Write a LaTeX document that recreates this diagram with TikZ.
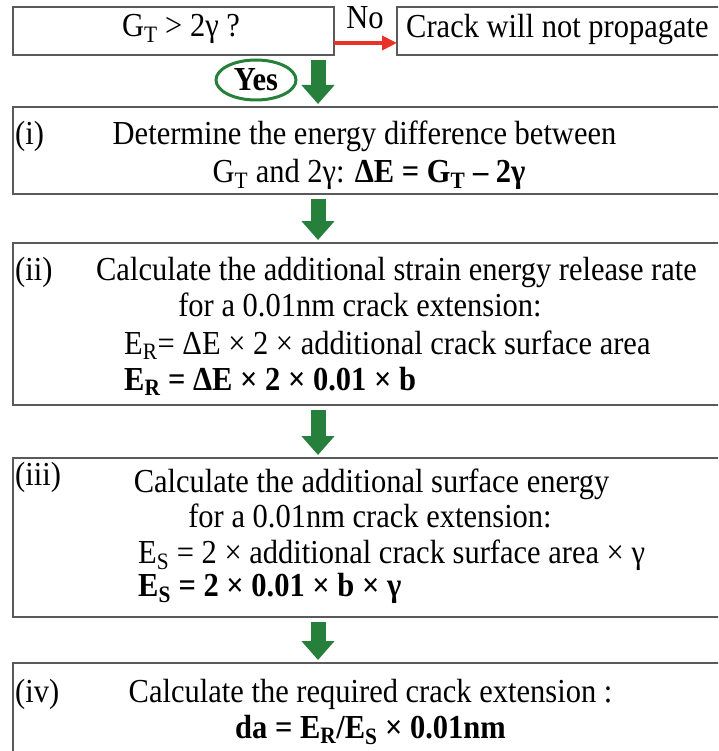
\documentclass[tikz,border=0pt]{standalone}
\usepackage{fontspec}
\usepackage{graphicx}
\setmainfont{Liberation Serif}
\usetikzlibrary{arrows.meta,shapes.geometric}
\newcommand{\subx}[1]{\textsubscript{#1}}
\newcommand{\vst}[1]{\scalebox{1}[1.1]{#1}}
\definecolor{gr}{RGB}{38,128,60}
\definecolor{rd}{RGB}{232,50,40}
\definecolor{bd}{RGB}{90,90,90}
\begin{document}
\begin{tikzpicture}[x=1pt,y=-1pt,
  box/.style={draw=bd,line width=1.6pt,rectangle,inner sep=0pt,outer sep=0pt},
  txt/.style={font=\fontsize{30.5}{36}\selectfont,inner sep=0pt,anchor=base},
  ltxt/.style={txt,anchor=base west},
  garrow/.style={gr,line width=15pt,-{Triangle[width=32pt,length=19pt]},shorten <=5pt,shorten >=3pt},
  rarrow/.style={rd,line width=4pt,-{Triangle[width=14pt,length=15pt]}}]
\useasboundingbox (0,0) rectangle (718,751);
\clip (0,0) rectangle (718,751);
% boxes
\node[box,minimum width=321,minimum height=48] (top) at (173.5,31) {};
\node[box,minimum width=343,minimum height=48] (no) at (568.5,31) {};
\node[box,minimum width=727,minimum height=87] (bi) at (376.5,150.5) {};
\node[box,minimum width=727,minimum height=162] (bii) at (376.5,324) {};
\node[box,minimum width=727,minimum height=159] (biii) at (376.5,537.5) {};
\node[box,minimum width=727,minimum height=137] (biv) at (376.5,731.5) {};
% top texts
\node[txt] (q) at (181,37) {\vst{G\subx{T} > 2γ ?}};
\node[ltxt] (crack) at (406,38) {\vst{Crack will not propagate}};
\node[txt] (nolab) at (365,29) {\vst{No}};
\node[ellipse,draw=gr,line width=3pt,minimum width=80,minimum height=40,inner sep=0pt,
  font=\fontsize{30.5}{36}\selectfont\bfseries] (yes) at (256,80) {\vst{Yes}};
% box i
\node[ltxt] (li) at (15,145) {\vst{(i)}};
\node[txt] (i1) at (364.5,145) {\vst{Determine the energy difference between}};
\node[txt] (i2) at (369,183) {\vst{G\subx{T} and 2γ: \textbf{ΔE = G\subx{T} – 2γ}}};
% box ii
\node[ltxt] (lii) at (15,280) {\vst{(ii)}};
\node[txt] (ii1) at (396.5,280) {\vst{Calculate the additional strain energy release rate}};
\node[txt] (ii2) at (360,316) {\vst{for a 0.01nm crack extension:}};
\node[ltxt] (ii3) at (124,354) {\vst{E\subx{R}= ΔE × 2 × additional crack surface area}};
\node[ltxt] (ii4) at (124,390) {\vst{\bfseries E\subx{R} = ΔE × 2 × 0.01 × b}};
% box iii
\node[ltxt] (liii) at (15,485) {\vst{(iii)}};
\node[txt] (iii1) at (371.5,492) {\vst{Calculate the additional surface energy}};
\node[txt] (iii2) at (370,527) {\vst{for a 0.01nm crack extension:}};
\node[ltxt] (iii3) at (138,563) {\vst{E\subx{S} = 2 × additional crack surface area × γ}};
\node[ltxt] (iii4) at (138,596) {\vst{\bfseries E\subx{S} = 2 × 0.01 × b × γ}};
% box iv
\node[ltxt] (liv) at (15,702) {\vst{(iv)}};
\node[txt] (iv1) at (370.5,702) {\vst{Calculate the required crack extension :}};
\node[txt] (iv2) at (370.5,738) {\vst{\bfseries da = E\subx{R}/E\subx{S} × 0.01nm}};
% connectors
\coordinate (col) at (318,0);
\coordinate (ry) at (0,43);
\draw[rarrow] (top.east |- ry) -- (no.west |- ry);
\draw[garrow] (top.south -| col) -- (bi.north -| col);
\draw[garrow] (bi.south -| col) -- (bii.north -| col);
\draw[garrow] (bii.south -| col) -- (biii.north -| col);
\draw[garrow] (biii.south -| col) -- (biv.north -| col);
\end{tikzpicture}
\end{document}
